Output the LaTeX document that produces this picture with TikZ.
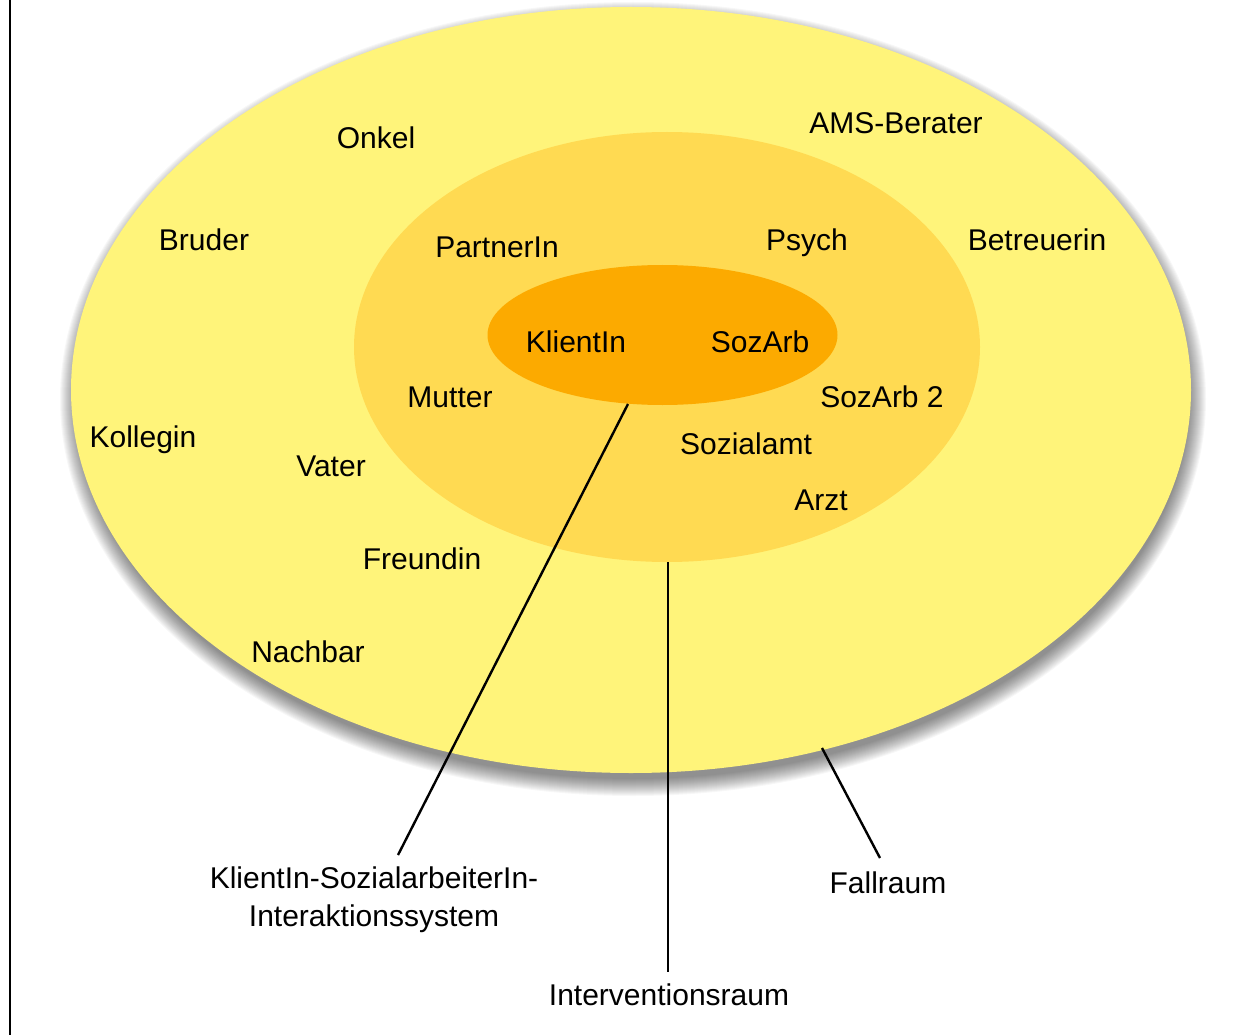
\documentclass[tikz,border=0pt]{standalone}
\usepackage{fontspec}
\setmainfont{Liberation Sans}
\usetikzlibrary{shapes.geometric}
\definecolor{fallcol}{RGB}{255,244,122}
\definecolor{intcol}{RGB}{255,218,82}
\definecolor{kerncol}{RGB}{252,170,0}
\tikzset{
  lbl/.style={anchor=base, inner sep=0pt, font=\fontsize{30}{38}\selectfont},
  zone/.style={ellipse, inner sep=0pt, draw=none},
  leader/.style={draw=black, line width=2.4pt}
}
\begin{document}
\begin{tikzpicture}[x=1pt,y=-1pt]
\useasboundingbox (0,0) rectangle (1248,1035);
% left border
\draw[line width=2.5pt] (10,0) -- (10,1035);
% soft shadow of outer ellipse
\foreach \k in {0,...,17}{
  \fill[black, opacity=0.032] (633,399) ellipse ({556+17-\k} and {380+17-\k});
}
\node[zone, fill=fallcol, minimum width=1120pt, minimum height=766pt] (fall) at (631,390) {};
\node[zone, fill=intcol, minimum width=626pt, minimum height=430pt] (interv) at (667,347) {};
\node[zone, fill=kerncol, minimum width=350pt, minimum height=140pt] (kern) at (662.5,335) {};
% labels
\node[lbl] (onkel) at (376,149) {Onkel};
\node[lbl] (ams) at (896,134) {AMS-Berater};
\node[lbl] (bruder) at (204,251) {Bruder};
\node[lbl] (partner) at (497,258) {PartnerIn};
\node[lbl] (psych) at (807,251) {Psych};
\node[lbl] (betreu) at (1037,251) {Betreuerin};
\node[lbl] (klient) at (576,352) {KlientIn};
\node[lbl] (sozarb) at (760,352) {SozArb};
\node[lbl] (mutter) at (450,407) {Mutter};
\node[lbl] (sozarb2) at (882,407) {SozArb 2};
\node[lbl] (kollegin) at (143,447) {Kollegin};
\node[lbl] (vater) at (331,476) {Vater};
\node[lbl] (sozialamt) at (746,454) {Sozialamt};
\node[lbl] (arzt) at (821,510) {Arzt};
\node[lbl] (freundin) at (422,569) {Freundin};
\node[lbl] (nachbar) at (308,662) {Nachbar};
\node[lbl, align=center] (kslabel) at (374,926) {KlientIn-SozialarbeiterIn-\\Interaktionssystem};
\node[lbl] (falllabel) at (888,893) {Fallraum};
\node[lbl] (intlabel) at (669,1005) {Interventionsraum};
% leader endpoints
\coordinate (kA) at (628,404);
\coordinate (kB) at (398,855);
\coordinate (iA) at (668,562);
\coordinate (iB) at (668,972);
\coordinate (fA) at (822,748);
\coordinate (fB) at (880,858);
\draw[leader] (kA) -- (kB);
\draw[leader] (iA) -- (iB);
\draw[leader] (fA) -- (fB);
\end{tikzpicture}
\end{document}
